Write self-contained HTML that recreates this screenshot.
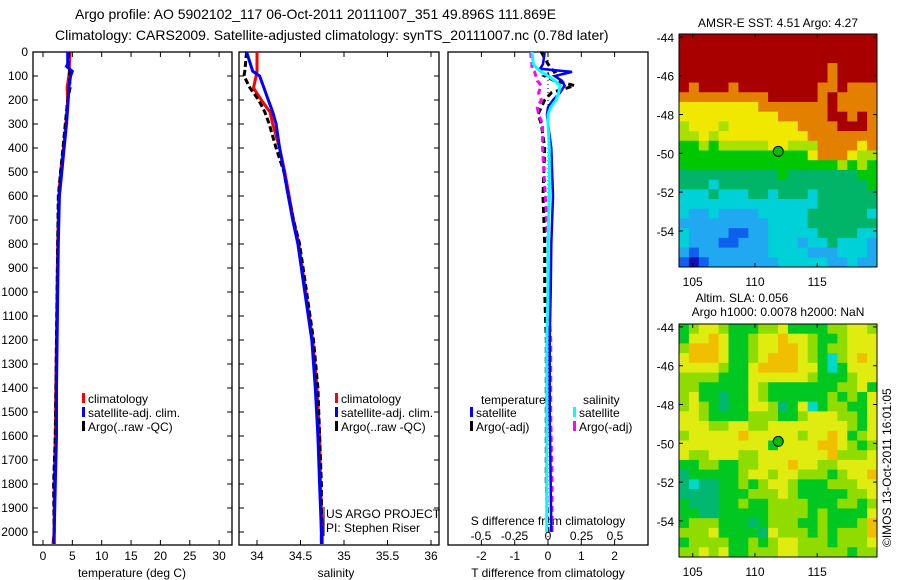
<!DOCTYPE html>
<html><head><meta charset="utf-8"><style>
body{margin:0;background:#fff}
svg{display:block;font-family:"Liberation Sans",sans-serif}
</style></head><body>
<svg id="c" width="900" height="580" xmlns="http://www.w3.org/2000/svg">
<text x="75" y="19" font-size="14">Argo profile: AO 5902102_117 06-Oct-2011 20111007_351 49.896S 111.869E</text>
<text x="55" y="40" font-size="14">Climatology: CARS2009. Satellite-adjusted climatology: synTS_20111007.nc (0.78d later)</text>
</svg>
<script>
// ---------- data ----------
const tDepth=[0,50,60,80,100,150,200,300,400,500,600,800,1000,1200,1400,1600,1800,2000,2050];
const tClim=[4.6,4.5,4.5,4.5,4.4,4.1,4.2,3.9,3.5,3.0,2.7,2.5,2.4,2.3,2.2,2.1,1.9,1.9,1.7];
const tSat=[4.2,4.2,4.0,5.0,4.7,4.4,4.3,4.0,3.6,3.2,2.8,2.6,2.5,2.4,2.3,2.3,2.1,1.9,1.9];
const tArgo=[4.4,4.3,4.2,4.6,4.5,4.6,4.2,3.8,3.4,3.0,2.6,2.5,2.4,2.3,2.2,2.1,1.8,1.9,1.8];
const sDepth=[0,80,100,150,200,250,300,400,500,600,700,800,1000,1200,1400,1600,1800,2000,2050];
const sClim=[34.0,34.0,33.99,33.96,34.05,34.15,34.18,34.26,34.32,34.37,34.42,34.48,34.56,34.64,34.69,34.72,34.73,34.75,34.75];
const sSat=[33.88,33.95,34.03,34.08,34.13,34.18,34.22,34.26,34.31,34.36,34.41,34.47,34.55,34.63,34.67,34.70,34.72,34.74,34.74];
const sArgo=[33.88,33.86,33.85,33.92,34.02,34.09,34.14,34.22,34.31,34.36,34.42,34.49,34.57,34.65,34.7,34.72,34.74,34.74,34.74];
const dDepth=[0,50,70,83,100,120,140,170,200,230,260,300,400,600,800,1000,1200,1500,1800,2000];
const dTSat=[-0.1,-0.15,-0.24,0.72,0.2,0.42,0.5,0.36,0.15,0.0,-0.03,0.0,0.1,0.15,0.1,0.08,0.05,0.05,0.08,0.1];
const dTArgo=[-0.2,0.0,0.1,0.2,-0.1,0.2,0.8,0.1,-0.1,-0.2,-0.3,-0.2,-0.1,-0.15,-0.1,-0.1,-0.05,-0.05,-0.05,0.0];
const dSSat=[-0.12,-0.11,-0.08,-0.05,0.0,0.05,0.09,0.08,0.06,0.02,0.0,0.0,0.01,0.01,0.0,0.0,-0.01,-0.01,-0.01,-0.01];
const dSArgo=[-0.13,-0.12,-0.12,-0.1,-0.09,-0.08,-0.05,-0.07,-0.05,-0.08,-0.07,-0.04,-0.04,-0.02,0.0,0.0,0.02,0.02,0.03,0.03];
const depthTicks=[0,100,200,300,400,500,600,700,800,900,1000,1100,1200,1300,1400,1500,1600,1700,1800,1900,2000];
const tTicks=[0,5,10,15,20,25,30];
const sTicks=[34,34.5,35,35.5,36];
const dTTicks=[-2,-1,0,1,2];
const dSTicks=[-0.5,-0.25,0,0.25,0.5];
const latTicks=[-44,-46,-48,-50,-52,-54];
const lonTicks=[105,110,115];
const sstRows=[
"99999999999999999999","99999999999999999999","99999999999999999999","99999999999999989999",
"99999999999999989999","98999899999999889888","88888888899999898888","77777777888888898888",
"77777777778888899898","67776777777788889998","66767777777778888888","55656666677666888878",
"55555555555557888766","55555555555555556565","44444444445444444455","44434444444444444445",
"33343334434443444444","33333333333333444444","32232222333334444443","22222222233334444444",
"32222112233333444433","32221122233323343332","21222222233332223332","10122222223333322322"];
const slaRows=[
"56776555667555566776","57787556778776556777","68887556778876566777","78887556788876536787",
"77776557888877535777","66665557777776555677","66555557655555556675","67554557655555565657",
"67654557764573566557","77655556665567776657","77766776677777777657","67777787777767787567",
"77777777757777887656","76677766777777786667","55665566777877667777","45555567767766656778",
"43445565677655566677","44445556667655555667","54445565566665556656","55445555566665655557",
"56665554566655655568","66675555476665656668","56666556567766656667","66767556667766666566"];
const argoLon=111.87, argoLat=-49.9;
// ---------- drawing ----------
const NS="http://www.w3.org/2000/svg", svg=document.getElementById('c');
function el(tag,attrs,parent){const e=document.createElementNS(NS,tag);for(const k in attrs)e.setAttribute(k,attrs[k]);(parent||svg).appendChild(e);return e;}
const Y0=52, PXM=0.24, YB=545;
const yD=d=>Y0+d*PXM;
function box(x0,x1,name){
  const g=el('g',{});
  
  
  el('rect',{x:x0,y:Y0,width:x1-x0,height:YB-Y0,fill:'none',stroke:'#000','stroke-width':1.3},g);
  return g;
}
function depthAxis(g,x0,x1,labels){
  depthTicks.forEach(d=>{const y=yD(d);
    el('line',{x1:x0,x2:x0+5,y1:y,y2:y,stroke:'#000'},g);
    el('line',{x1:x1,x2:x1-5,y1:y,y2:y,stroke:'#000'},g);
    if(labels){const t=el('text',{x:x0-5,y:y+4,'font-size':12,'text-anchor':'end'},g);t.textContent=d;
      
      }
  });
}
function line(xs,ds,fx,color,w,dash,name){
  const pts=xs.map((v,i)=>fx(v).toFixed(1)+','+yD(ds[i]).toFixed(1)).join(' ');
  const p=el('polyline',{points:pts,fill:'none',stroke:color,'stroke-width':w,'stroke-dasharray':dash||'none'});
  
  
}
function xTicks(g,ticks,fx,ylab,name){
  ticks.forEach(v=>{const x=fx(v);
    el('line',{x1:x,x2:x,y1:YB,y2:YB-5,stroke:'#000'},g);
    el('line',{x1:x,x2:x,y1:Y0,y2:Y0+5,stroke:'#000'},g);
    const t=el('text',{x:x,y:ylab,'font-size':12,'text-anchor':'middle'},g);t.textContent=v;
    
    
  });
}
function txt(x,y,s,name,size,anchor,parent){const t=el('text',{x:x,y:y,'font-size':size||12,'text-anchor':anchor||'start'},parent);t.textContent=s;
  
  return t;}
function legend(x,y,color,label,name){
  const r=el('rect',{x:x,y:y-6,width:3,height:10,fill:color});
  
  
  txt(x+6,y+4,label,name);
}
// panel 1 temperature
const fT=v=>43+v*5.87;
const g1=box(33,232,'temperature-panel');
depthAxis(g1,33,232,true);
xTicks(g1,tTicks,fT,560,'temperature-tick-label');
txt(132,577,'temperature (deg C)','temperature-axis-title',12,'middle');
line(tClim,tDepth,fT,'#f00',3,null,'temp-climatology-line');
line(tArgo,tDepth,fT,'#000',3,'6,3','temp-argo-line');
line(tSat,tDepth,fT,'#00f',3,null,'temp-satellite-line');
legend(82,399,'#f00','climatology','legend-climatology');
legend(82,413,'#00f','satellite-adj. clim.','legend-satellite');
legend(82,427,'#000','Argo(..raw -QC)','legend-argo');
// panel 2 salinity
const fS=v=>257+(v-34)*87;
const g2=box(239,439,'salinity-panel');
depthAxis(g2,239,439,false);
xTicks(g2,sTicks,fS,560,'salinity-tick-label');
txt(336,577,'salinity','salinity-axis-title',12,'middle');
line(sClim,sDepth,fS,'#f00',3,null,'sal-climatology-line');
line(sArgo,sDepth,fS,'#000',3,'6,3','sal-argo-line');
line(sSat,sDepth,fS,'#00f',3,null,'sal-satellite-line');
legend(335,399,'#f00','climatology','legend-climatology-2');
legend(335,413,'#00f','satellite-adj. clim.','legend-satellite-2');
legend(335,427,'#000','Argo(..raw -QC)','legend-argo-2');
txt(326,518,'US ARGO PROJECT','project-label');
txt(326,532,'PI: Stephen Riser','pi-label');
el('line',{x1:324,x2:324,y1:507,y2:536,stroke:'#000'});
// panel 3 differences
const fDT=v=>548+v*33.3, fDS=v=>548+v*134;
const g3=el('g',{});


el('rect',{x:448,y:Y0,width:200,height:YB-Y0,fill:'none',stroke:'#000','stroke-width':1.3},g3);
dTTicks.forEach(v=>{const x=fDT(v);el('line',{x1:x,x2:x,y1:Y0,y2:Y0+5,stroke:'#000'},g3);el('line',{x1:x,x2:x,y1:YB,y2:YB-5,stroke:'#000'},g3);
  txt(x,560,v,'t-diff-tick-label',12,'middle',g3);});
dSTicks.forEach(v=>{txt(fDS(v),540,v,'s-diff-tick-label',12,'middle',g3);});
txt(548,525,'S difference from climatology','s-diff-axis-title',12,'middle',g3);
txt(548,577,'T difference from climatology','t-diff-axis-title',12,'middle',g3);
el('line',{x1:548,x2:548,y1:Y0,y2:YB,stroke:'#000','stroke-dasharray':'1,3'},g3);
line(dTArgo,dDepth,fDT,'#000',3,'6,4','tdiff-argo-line');
line(dSArgo,dDepth,fDS,'#f0f',3,'6,4','sdiff-argo-line');
line(dTSat,dDepth,fDT,'#00f',2.5,null,'tdiff-satellite-line');
line(dSSat,dDepth,fDS,'#0ff',3,null,'sdiff-satellite-line');
txt(481,404,'temperature','legend-temperature-heading');
legend(470,413,'#00f','satellite','legend-t-satellite');
legend(470,427,'#000','Argo(-adj)','legend-t-argo');
txt(583,404,'salinity','legend-salinity-heading');
legend(573,413,'#0ff','satellite','legend-s-satellite');
legend(573,427,'#f0f','Argo(-adj)','legend-s-argo');
// maps
const sstCol={0:'#1010b8',1:'#1060f0',2:'#20a8f0',3:'#00d0d8',4:'#00b468',5:'#00c800',6:'#a8e000',7:'#f0e800',8:'#e48000',9:'#a80000'};
const slaCol={3:'#00d8c8',4:'#00b870',5:'#00c820',6:'#90dc00',7:'#e0ec10',8:'#f0c000'};
function map(rows,cols,top,name){
  const X0=679,X1=877,Yt=top,Yb=top+233;
  const lon0=103.9,lon1=119.8,lat0=-43.85,lat1=-55.86;
  const fx=l=>X0+(l-lon0)/(lon1-lon0)*(X1-X0), fy=l=>Yt+(l-lat0)/(lat1-lat0)*(Yb-Yt);
  const g=el('g',{});
  
  
  const nr=rows.length,nc=rows[0].length,cw=(X1-X0)/nc,ch=(Yb-Yt)/nr;
  rows.forEach((r,i)=>{for(let j=0;j<nc;j++){
    const c=el('rect',{x:(X0+j*cw).toFixed(2),y:(Yt+i*ch).toFixed(2),width:(cw+0.5).toFixed(2),height:(ch+0.5).toFixed(2),fill:cols[r[j]]},g);
    
    
  }});
  el('rect',{x:X0,y:Yt,width:X1-X0,height:Yb-Yt,fill:'none',stroke:'#000'},g);
  latTicks.forEach(l=>{const y=fy(l);el('line',{x1:X0,x2:X0+4,y1:y,y2:y,stroke:'#000'},g);el('line',{x1:X1,x2:X1-4,y1:y,y2:y,stroke:'#000'},g);
    txt(674,y+5,l,'lat-tick-label',12,'end',g);});
  lonTicks.forEach(l=>{const x=fx(l);el('line',{x1:x,x2:x,y1:Yb,y2:Yb-4,stroke:'#000'},g);el('line',{x1:x,x2:x,y1:Yt,y2:Yt+4,stroke:'#000'},g);
    txt(x,Yb+19,l,'lon-tick-label',12,'middle',g);});
  const m=el('circle',{cx:fx(argoLon),cy:fy(argoLat),r:5,fill:'#00c000',stroke:'#000'},g);
  
  
}
map(sstRows,sstCol,34,'sst-map');
map(slaRows,slaCol,324,'sla-map');
txt(778,27,'AMSR-E SST: 4.51 Argo: 4.27','sst-map-title',12,'middle');
txt(742,302,'Altim. SLA: 0.056','sla-map-title',12,'middle');
txt(778,316,'Argo h1000: 0.0078 h2000: NaN','sla-map-subtitle',12,'middle');
const cr=txt(0,0,'©IMOS 13-Oct-2011 16:01:05','timestamp-label',12,'start');
cr.setAttribute('transform','translate(891,547) rotate(-90)');
</script>
</body></html>
